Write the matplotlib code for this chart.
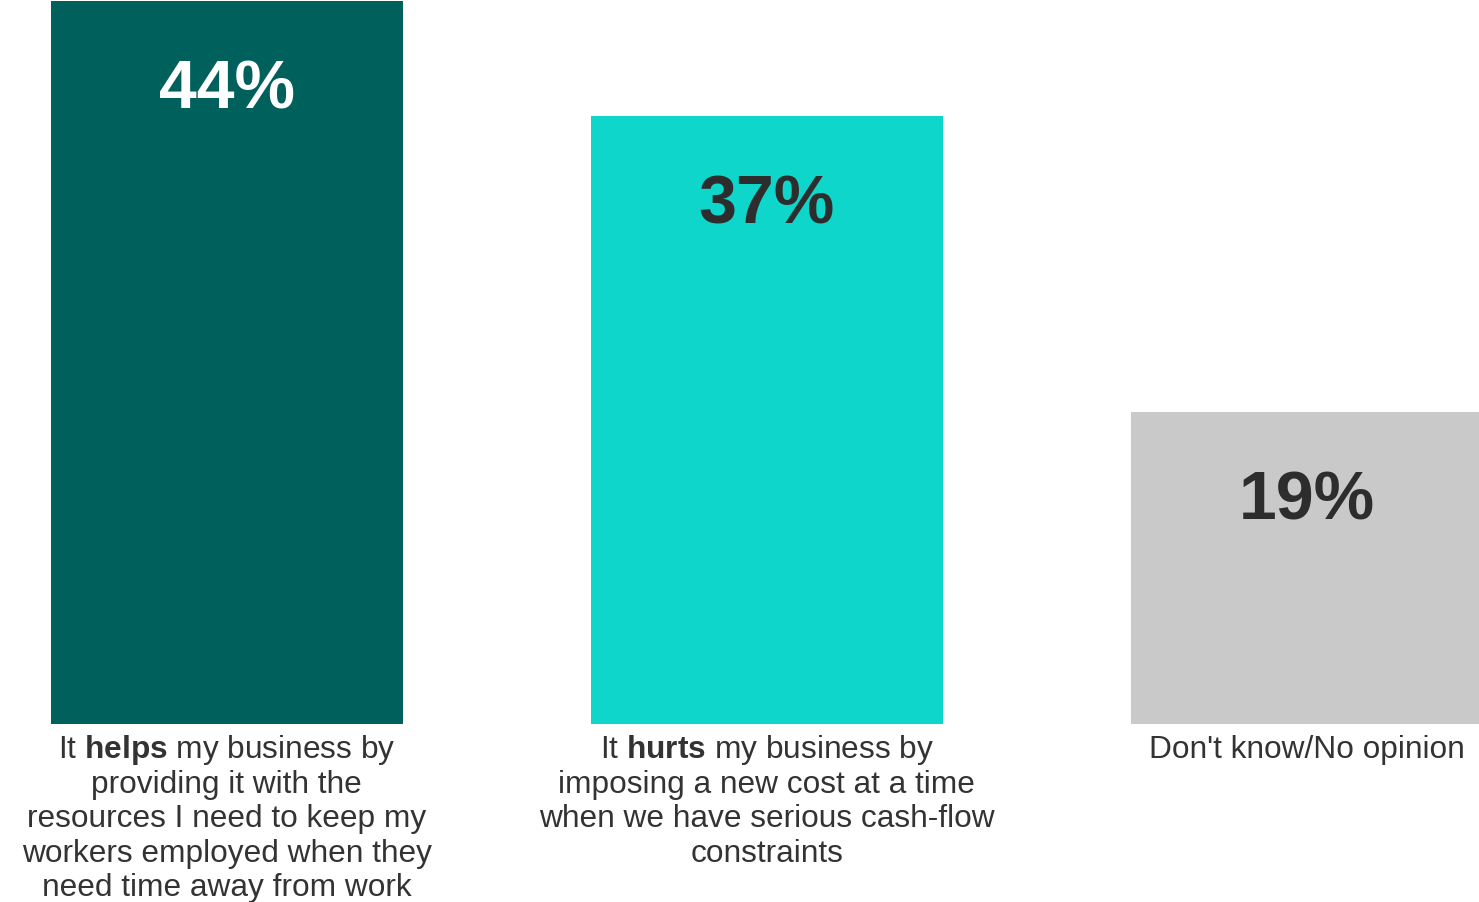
import matplotlib.pyplot as plt

plt.rcParams['font.family'] = ['Liberation Sans', 'DejaVu Sans']
plt.rcParams['mathtext.fontset'] = 'custom'
plt.rcParams['mathtext.rm'] = 'Liberation Sans'
plt.rcParams['mathtext.bf'] = 'Liberation Sans:bold'

categories = [
    'It $\\mathbf{helps}$ my business by\nproviding it with the\nresources I need to keep my\nworkers employed when they\nneed time away from work',
    'It $\\mathbf{hurts}$ my business by\nimposing a new cost at a time\nwhen we have serious cash-flow\nconstraints',
    "Don't know/No opinion",
]
values = [44, 37, 19]
bar_colors = ['#00605C', '#0FD6CB', '#C9C9C9']
value_colors = ['#FFFFFF', '#2D2D2D', '#2D2D2D']
text_color = '#333333'

fig = plt.figure(figsize=(14.79, 9.03), dpi=100)
ax = fig.add_axes([0, 178 / 903, 1, 725 / 903])

x = list(range(len(values)))
ax.bar(x, values, width=0.651, color=bar_colors)

line_step = 34.5 * 0.72  # points between label lines

for i, v in enumerate(values):
    ax.annotate(f'{v}%', xy=(i, v), xytext=(0, -77), textcoords='offset points',
                ha='center', va='baseline', fontsize=49, fontweight='bold',
                color=value_colors[i])
    # one line at a time so the bold words don't change the spacing
    for j, line in enumerate(categories[i].split('\n')):
        ax.annotate(line, xy=(i, 0), xycoords=('data', 'axes fraction'),
                    xytext=(0, -24 - j * line_step), textcoords='offset points',
                    ha='center', va='baseline', fontsize=22.8, color=text_color)

ax.set_xlim(-0.42, 2.319)
ax.set_ylim(0, 44 * 725 / 723)
ax.axis('off')

fig.savefig('out.png', dpi=100)
